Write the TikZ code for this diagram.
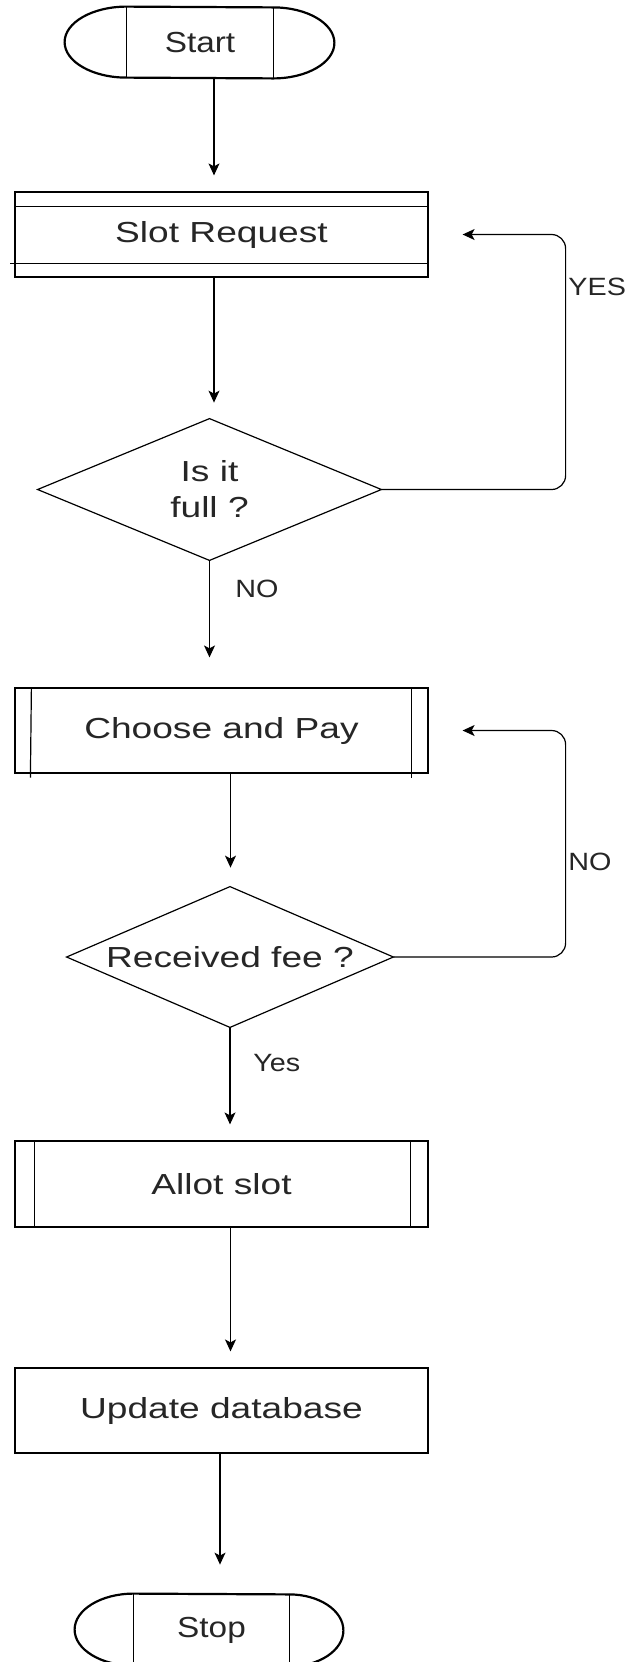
\documentclass[tikz,border=0pt]{standalone}
\usepackage{fontspec}
\setmainfont{Liberation Sans}
\usetikzlibrary{arrows.meta}

\newcommand{\wide}[2][1.28]{\scalebox{#1}[1]{#2}}

\tikzset{
  box/.style={draw, line width=0.6pt, minimum width=206.5pt, minimum height=42.5pt,
    inner sep=0pt, text=black!85, font=\fontsize{14.5}{18}\selectfont},
  term/.style={minimum height=35.5pt, inner sep=0pt, text=black!85,
    font=\fontsize{14.5}{18}\selectfont},
  decide/.style={minimum width=171.5pt, minimum height=70.5pt, inner sep=0pt,
    align=center, text=black!85, font=\fontsize{14.5}{18}\selectfont},
  arr/.style={line width=0.6pt, -{Stealth[length=6pt,width=5.5pt,inset=1.5pt]}},
  lbl/.style={anchor=west, inner sep=0pt, text=black!85, font=\fontsize{12.5}{15}\selectfont}
}

\begin{document}
\begin{tikzpicture}[x=0.5pt,y=-0.5pt]
  \useasboundingbox (0,0) rectangle (637,1662);

  % nodes
  \node[term, minimum width=73pt] (start) at (200,42.5) {\wide[1.15]{Start}};
  \node[box] (req) at (221.5,234.5) {\wide{Slot Request}};
  \node[decide] (full) at (209.5,489.5) {\wide{Is it}\\\wide{full ?}};
  \node[box] (pay) at (221.5,730.5) {\wide{Choose and Pay}};
  \node[decide, minimum width=163pt, minimum height=70pt] (fee) at (230,957) {\wide{Received fee ?}};
  \node[box, minimum height=43pt] (allot) at (221.5,1184) {\wide{Allot slot}};
  \node[box] (update) at (221.5,1410.5) {\wide{Update database}};
  \node[term, minimum width=77.5pt, minimum height=36pt] (stop) at (211.5,1630) {\wide[1.15]{Stop}};

  % terminals
  \draw[line width=1.1pt] (start.north west) arc[start angle=90, end angle=270, x radius=31pt, y radius=17.75pt]
    -- (start.south east) arc[start angle=-90, end angle=90, x radius=30.5pt, y radius=17.75pt] -- cycle;
  \draw[line width=0.6pt] (start.north west) -- (start.south west);
  \draw[line width=0.6pt] (start.north east) -- (start.south east);
  \draw[line width=1.1pt] (stop.north west) arc[start angle=90, end angle=270, x radius=29.5pt, y radius=18pt]
    -- (stop.south east) arc[start angle=-90, end angle=90, x radius=27pt, y radius=18pt] -- cycle;
  \draw[line width=0.6pt] (stop.north west) -- (stop.south west);
  \draw[line width=0.6pt] (stop.north east) -- (stop.south east);

  % inner lines of the boxes
  \draw[line width=0.6pt] ([yshift=-7.5pt]req.north west) -- ([yshift=-7.5pt]req.north east);
  \draw[line width=0.6pt] ([xshift=-2pt,yshift=7pt]req.south west) -- ([yshift=7pt]req.south east);
  \draw[line width=0.6pt] ([xshift=8.5pt]pay.north west) -- ([xshift=8pt,yshift=-2pt]pay.south west);
  \draw[line width=0.6pt] ([xshift=-8.5pt]pay.north east) -- ([xshift=-8.5pt,yshift=-2pt]pay.south east);
  \draw[line width=0.6pt] ([xshift=10pt]allot.north west) -- ([xshift=10pt]allot.south west);
  \draw[line width=0.6pt] ([xshift=-9pt]allot.north east) -- ([xshift=-9pt]allot.south east);

  % decisions
  \draw[line width=0.6pt] (full.north) -- (full.east) -- (full.south) -- (full.west) -- cycle;
  \draw[line width=0.6pt] (fee.north) -- (fee.east) -- (fee.south) -- (fee.west) -- cycle;

  % arrows
  \draw[arr, shorten >=8pt] ([xshift=7pt]start.south) -- ([xshift=7pt]start.south |- req.north);
  \draw[arr, shorten >=8pt] ([xshift=-3.75pt]req.south) -- ([xshift=-3.75pt]req.south |- full.north);
  \draw[arr, shorten >=15pt] (full.south) -- (full.south |- pay.north);
  \draw[arr, shorten >=9.5pt] ([xshift=4.5pt]pay.south) -- ([xshift=4.5pt]pay.south |- fee.north);
  \draw[arr, shorten >=8pt] (fee.south) -- (fee.south |- allot.north);
  \draw[arr, shorten >=8pt] ([xshift=4.5pt]allot.south) -- ([xshift=4.5pt]allot.south |- update.north);
  \draw[arr, shorten >=14.5pt] ([xshift=-0.75pt]update.south) -- ([xshift=-0.75pt]update.south |- stop.north);

  % loops back
  \draw[arr, rounded corners=7pt] (full.east) -| ([xshift=68.5pt]req.east) -- ([xshift=17pt]req.east);
  \draw[arr, rounded corners=7pt] (fee.east) -| ([xshift=68.5pt]pay.east) -- ([xshift=17pt]pay.east);

  % labels
  \node[lbl] (yes1) at (568,287) {\wide[1.15]{YES}};
  \node[lbl] (no1) at (235,589) {\wide[1.15]{NO}};
  \node[lbl] (no2) at (568,862) {\wide[1.15]{NO}};
  \node[lbl] (yes2) at (253,1063) {\wide[1.15]{Yes}};
\end{tikzpicture}
\end{document}
